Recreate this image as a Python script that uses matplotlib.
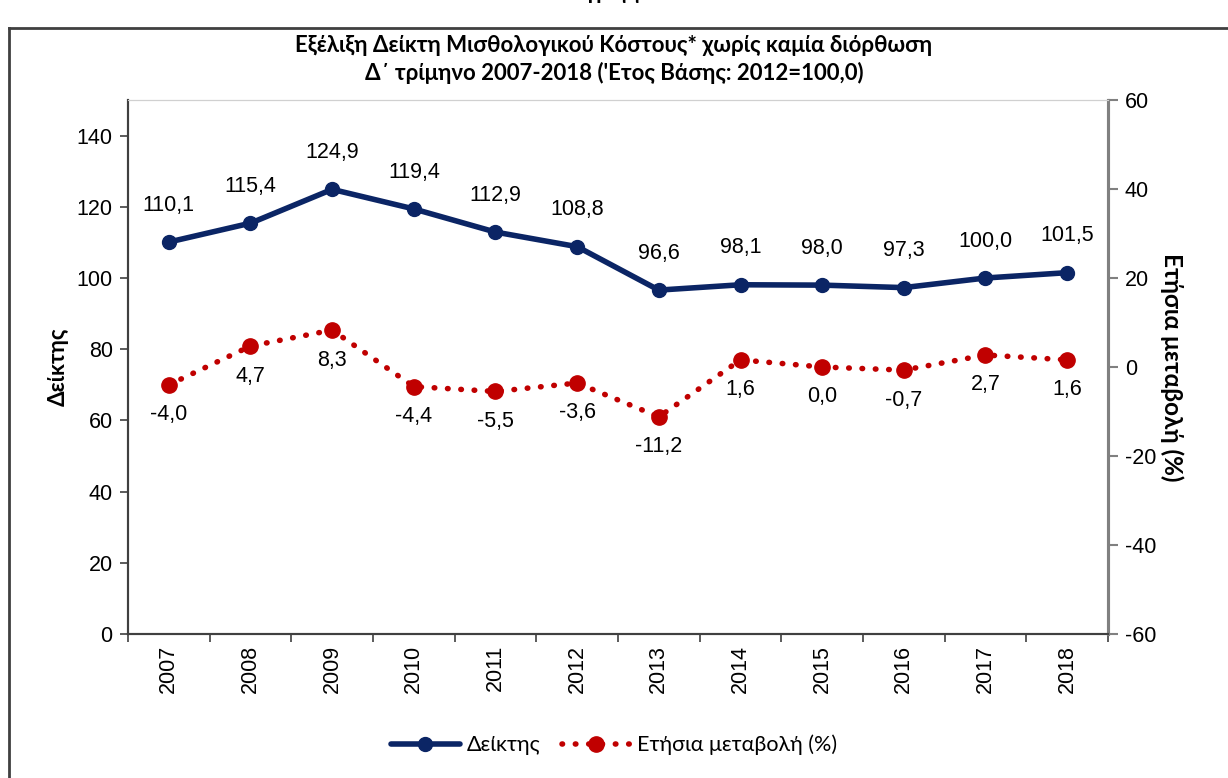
import matplotlib
matplotlib.use("Agg")
import matplotlib.pyplot as plt
from matplotlib.lines import Line2D

plt.rcParams["axes.unicode_minus"] = False

years = ["2007", "2008", "2009", "2010", "2011", "2012", "2013", "2014", "2015", "2016", "2017", "2018"]
index_vals = [110.1, 115.4, 124.9, 119.4, 112.9, 108.8, 96.6, 98.1, 98.0, 97.3, 100.0, 101.5]
change_vals = [-4.0, 4.7, 8.3, -4.4, -5.5, -3.6, -11.2, 1.6, 0.0, -0.7, 2.7, 1.6]

title1 = "Εξέλιξη Δείκτη Μισθολογικού Κόστους* χωρίς καμία διόρθωση"
title2 = "Δ΄ τρίμηνο 2007-2018 ('Ετος Βάσης: 2012=100,0)"

navy = "#0b2565"
red = "#c00000"
num_font = ["Liberation Sans", "DejaVu Sans"]
txt_font = ["Lato", "DejaVu Sans"]
NS = 15.5

def fmt(v):
    return f"{v:.1f}".replace(".", ",")

fig = plt.figure(figsize=(12.28, 7.78), dpi=100)
ax = fig.add_axes([128/1228, 1-634/778, 980/1228, 534/778])
ax2 = ax.twinx()

x = list(range(len(years)))
ax.plot(x, index_vals, color=navy, lw=4, marker="o", ms=10, solid_capstyle="round", zorder=3)
ax2.plot(x, change_vals, color=red, lw=4, ls=(0, (0.1, 2.3)), dash_capstyle="round",
         marker="o", ms=11, zorder=3)

for xi, v in zip(x, index_vals):
    ax.annotate(fmt(v), (xi, v), xytext=(0, 19), textcoords="offset points",
                ha="center", va="bottom", fontsize=NS, family=num_font)
for xi, v in zip(x, change_vals):
    ax2.annotate(fmt(v), (xi, v), xytext=(0, -14), textcoords="offset points",
                 ha="center", va="top", fontsize=NS, family=num_font)

ax.set_xlim(-0.5, len(years) - 0.5)
ax.set_ylim(0, 150)
ax.set_yticks(range(0, 141, 20))
ax2.set_ylim(-60, 60)
ax2.set_yticks(range(-60, 61, 20))

ax.set_xticks([i - 0.5 for i in range(len(years) + 1)])
ax.set_xticklabels([])
ax.set_xticks(x, minor=True)
ax.set_xticklabels(years, minor=True, rotation=90, fontsize=NS, family=num_font)
ax.tick_params(axis="x", which="minor", length=0, pad=8)
ax.tick_params(axis="x", which="major", length=6, width=1.2, color="#404040")
ax.tick_params(axis="y", length=6, width=1.2, color="#404040", labelsize=NS, pad=5)
ax2.tick_params(axis="y", length=7, width=1.5, color="#808080", labelsize=NS, pad=5)
for lab in ax.get_yticklabels() + ax2.get_yticklabels():
    lab.set_family(num_font)

for a in (ax, ax2):
    a.spines["top"].set_color("#d0d0d0")
    a.spines["left"].set_color("#404040")
    a.spines["left"].set_linewidth(1.5)
    a.spines["bottom"].set_color("#404040")
    a.spines["bottom"].set_linewidth(1.5)
    a.spines["right"].set_color("#808080")
    a.spines["right"].set_linewidth(2.2)

ax.set_ylabel("Δείκτης", fontsize=16, fontweight="bold", family=txt_font, labelpad=6)
ax2.set_ylabel("Ετήσια μεταβολή (%)", fontsize=17.5, fontweight="bold", family=txt_font,
               rotation=-90, labelpad=20)

fig.text(0.5, 1 - 45/778, title1, ha="center", va="center", fontsize=16,
         fontweight="bold", family=txt_font)
fig.text(0.5, 1 - 73/778, title2, ha="center", va="center", fontsize=16,
         fontweight="bold", family=txt_font)
fig.text(0.5, 1 + 1/778, "Διάγραμμα 1", ha="center", va="baseline", fontsize=15.5,
         fontweight="bold", family=txt_font)

# outer frame
fig.add_artist(Line2D([9/1228, 9/1228], [0, 1 - 28/778], transform=fig.transFigure,
                      color="#404040", lw=2))
fig.add_artist(Line2D([9/1228, 1], [1 - 28/778, 1 - 28/778], transform=fig.transFigure,
                      color="#404040", lw=2))

h1 = Line2D([], [], color=navy, lw=4, marker="o", ms=10, solid_capstyle="round")
h2 = Line2D([], [], color=red, lw=4, ls=(0, (0.1, 2.3)), dash_capstyle="round", marker="o", ms=11)
fig.legend([h1, h2], ["Δείκτης", "Ετήσια μεταβολή (%)"], loc="center",
           bbox_to_anchor=(0.5, 1 - 745/778), ncol=2, frameon=False,
           prop={"family": txt_font, "size": 15.5}, handlelength=3.2, columnspacing=1.0,
           handletextpad=0.3)

fig.savefig("out.png", dpi=100)
